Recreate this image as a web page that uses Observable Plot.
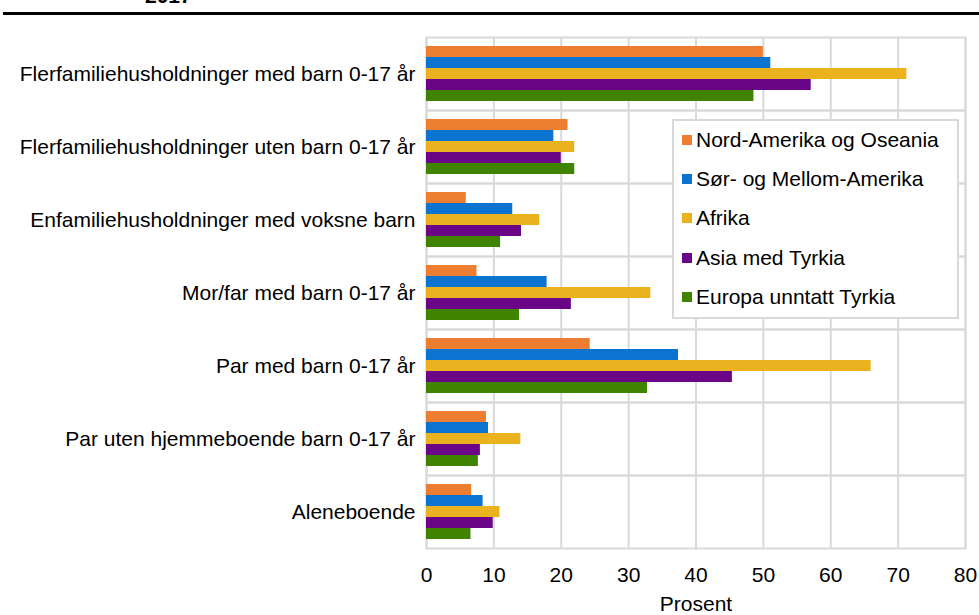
<!DOCTYPE html>
<html><head><meta charset="utf-8">
<script src="https://cdn.jsdelivr.net/npm/d3@7"></script>
<script src="https://cdn.jsdelivr.net/npm/@observablehq/plot@0.6"></script>
<style>
html,body{margin:0;padding:0;background:#fff;}
#wrap{position:relative;width:979px;height:615px;overflow:hidden;font-family:"Liberation Sans",Arial,sans-serif;color:#000;}
#wrap svg{position:absolute;left:0;top:0;}
#title{position:absolute;left:145px;top:-15px;font-size:21px;font-weight:bold;line-height:21px;}
#rule{position:absolute;left:3px;right:0;top:12px;height:3px;background:#000;}
#legend{position:absolute;left:672px;top:119px;width:283px;height:196px;border:2px solid #d9d9d9;background:#fff;}
.item{position:absolute;left:8px;font-size:21px;line-height:24px;height:24px;display:flex;align-items:center;white-space:nowrap;}
.sw{width:10px;height:10px;margin-right:4px;flex:none;}
</style></head>
<body>
<div id="wrap">
  <div id="title">2017</div>
  <div id="rule"></div>
</div>
<script>
const categories = [
  "Flerfamiliehusholdninger med barn 0-17 år",
  "Flerfamiliehusholdninger uten barn 0-17 år",
  "Enfamiliehusholdninger med voksne barn",
  "Mor/far med barn 0-17 år",
  "Par med barn 0-17 år",
  "Par uten hjemmeboende barn 0-17 år",
  "Aleneboende"
];
const series = [
  "Nord-Amerika og Oseania",
  "Sør- og Mellom-Amerika",
  "Afrika",
  "Asia med Tyrkia",
  "Europa unntatt Tyrkia"
];
const colors = ["#ed7d31", "#0b73d0", "#ebb220", "#6a0587", "#3f8300"];
const nordAmerikaOseania = [50.0, 21.0, 5.9, 7.5, 24.3, 8.9, 6.7];
const sorMellomAmerika   = [51.1, 18.9, 12.8, 17.9, 37.4, 9.2, 8.4];
const afrika             = [71.3, 22.0, 16.8, 33.3, 66.0, 14.0, 10.9];
const asiaMedTyrkia      = [57.1, 20.0, 14.1, 21.5, 45.4, 8.0, 9.9];
const europaUnntattTyrkia= [48.6, 22.0, 11.0, 13.8, 32.8, 7.7, 6.6];
const xTicks = [0, 10, 20, 30, 40, 50, 60, 70, 80];
const xLabel = "Prosent";

const seriesValues = [nordAmerikaOseania, sorMellomAmerika, afrika, asiaMedTyrkia, europaUnntattTyrkia];
const data = [];
categories.forEach((c, i) => series.forEach((s, j) => data.push({category: c, series: s, value: seriesValues[j][i]})));

const chart = Plot.plot({
  width: 979,
  height: 615,
  marginTop: 35,
  marginBottom: 66,
  marginLeft: 426,
  marginRight: 14,
  style: {fontFamily: "'Liberation Sans', Arial, sans-serif", fontSize: "21px", color: "#000", background: "transparent", overflow: "visible"},
  x: {domain: [0, 80]},
  fy: {domain: categories, padding: 0},
  y: {domain: series, paddingInner: 0, paddingOuter: 0.74, align: 0.52, axis: null},
  color: {domain: series, range: colors},
  marks: [
    Plot.gridX({ticks: xTicks, stroke: "#d9d9d9", strokeOpacity: 1, strokeWidth: 2}),
    Plot.frame({stroke: "#d9d9d9", strokeWidth: 2}),
    Plot.barX(data, {x: "value", y: "series", fy: "category", fill: "series"}),
    Plot.axisX({ticks: xTicks, tickSize: 0, tickPadding: 19, label: xLabel, labelAnchor: "center", labelArrow: "none", labelOffset: 62}),
    Plot.axisFy({anchor: "left", tickSize: 0, tickPadding: 11, label: null})
  ]
});
const wrap = document.getElementById("wrap");
wrap.insertBefore(chart, wrap.firstChild);

const legend = document.createElement("div");
legend.id = "legend";
series.forEach((s, j) => {
  const item = document.createElement("div");
  item.className = "item";
  item.style.top = (7 + j * 39.2) + "px";
  const sw = document.createElement("span");
  sw.className = "sw";
  sw.style.background = colors[j];
  const t = document.createElement("span");
  t.textContent = s;
  item.appendChild(sw);
  item.appendChild(t);
  legend.appendChild(item);
});
wrap.appendChild(legend);
</script>
</body></html>
